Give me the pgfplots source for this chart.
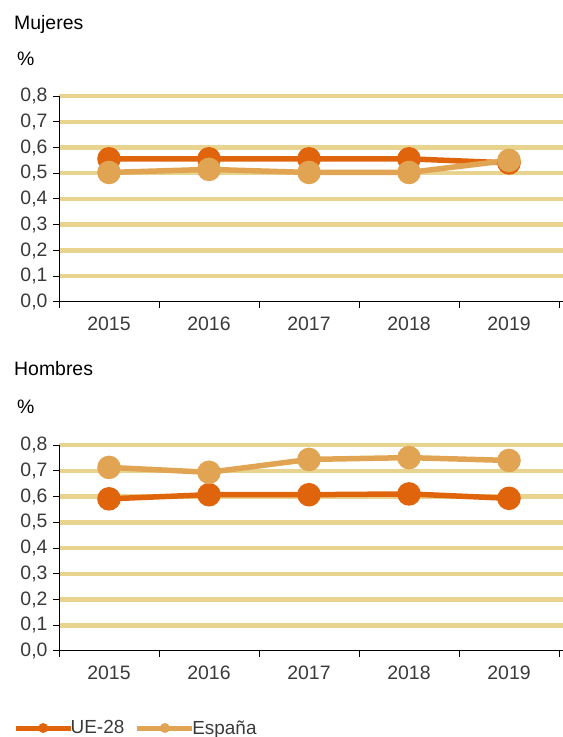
\documentclass[border=0pt]{standalone}
\usepackage{pgfplots}
\pgfplotsset{compat=1.18}
\usepackage{fontspec}
\setmainfont{Liberation Sans}

\definecolor{ue}{HTML}{E0640C}
\definecolor{esp}{HTML}{E0A452}
\definecolor{gridc}{HTML}{E8D38F}
\definecolor{txt}{HTML}{3A3A3A}

\tikzset{ttl/.style={anchor=west, inner sep=0pt, font=\fontsize{19.5}{21}\selectfont, text=black}}

\pgfplotsset{
  panel/.style={
    scale only axis,
    width=504bp, height=206bp,
    xmin=-0.5, xmax=4.54,
    ymin=0, ymax=0.8,
    axis x line*=bottom, axis y line*=left,
    axis line style={black, line width=1bp, -},
    xtick={-0.5,0.5,1.5,2.5,3.5,4.5},
    x tick label as interval,
    xticklabels={2015,2016,2017,2018,2019},
    ytick={0.1,0.2,0.3,0.4,0.5,0.6,0.7,0.8},
    extra y ticks={0},
    extra y tick style={grid=none},
    ymajorgrids,
    major grid style={gridc, line width=4.5bp},
    tick style={black, line width=1bp},
    major tick length=6bp,
    tick align=outside,
    xticklabel style={yshift=-5bp},
    yticklabel style={xshift=-2bp, /pgf/number format/.cd, fixed, fixed zerofill, precision=1, use comma, assume math mode=true},
    ticklabel style={font=\fontsize{19.5}{21}\selectfont, text=txt},
    every axis plot/.append style={line width=5.5bp, mark=*, mark size=9bp, mark options={solid}},
    clip=false,
  },
}

\begin{document}
\begin{tikzpicture}
\useasboundingbox (0bp,0bp) rectangle (563bp,737bp);

\node[ttl] at (14bp,713bp) {Mujeres};
\node[ttl] at (17bp,678bp) {\%};

\begin{axis}[panel, at={(59bp,435bp)}, anchor=south west]
\addplot[color=ue] coordinates {(0,0.556) (1,0.556) (2,0.556) (3,0.556) (4,0.540)};
\addplot[color=esp] coordinates {(0,0.503) (1,0.515) (2,0.503) (3,0.503) (4,0.550)};
\end{axis}

\node[ttl] at (14bp,368bp) {Hombres};
\node[ttl] at (17bp,330bp) {\%};

\begin{axis}[panel, at={(59bp,86bp)}, anchor=south west,
  legend style={at={(-46bp,-77bp)}, anchor=west, draw=none, fill=none,
    legend columns=2, font=\fontsize{19}{20}\selectfont, text=txt,
    /tikz/every odd column/.append style={column sep=-3bp},
    /tikz/every even column/.append style={column sep=10bp},
    inner sep=0pt, nodes={inner sep=0.5pt}},
  legend cell align=left,
  legend image code/.code={
    \draw[#1, mark=none, line width=5bp] (0bp,0bp) -- (55bp,0bp);
    \fill[#1] (27.5bp,0bp) circle (2bp);
  },
]
\addplot[color=ue] coordinates {(0,0.591) (1,0.607) (2,0.607) (3,0.610) (4,0.593)};
\addlegendentry{UE-28}
\addplot[color=esp] coordinates {(0,0.713) (1,0.694) (2,0.744) (3,0.751) (4,0.740)};
\addlegendentry{España}
\end{axis}
\end{tikzpicture}
\end{document}
